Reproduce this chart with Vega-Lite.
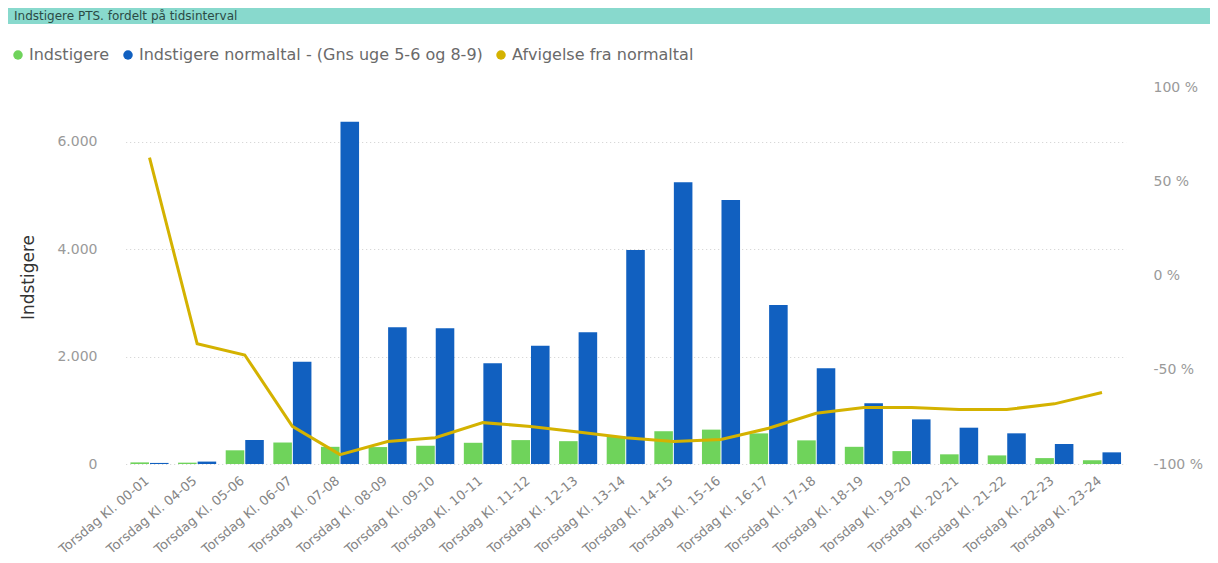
{
  "$schema": "https://vega.github.io/schema/vega-lite/v6.json",
  "width": 1202,
  "height": 456,
  "autosize": {"type": "none"},
  "padding": {"left": 8, "top": 8, "right": 8, "bottom": 99},
  "background": "white",
  "title": {"text": "Indstigere PTS. fordelt på tidsinterval", "anchor": "start", "frame": "group", "orient": "top", "offset": -15, "dx": 6, "fontSize": 12, "fontWeight": "normal", "color": "#2b4a45", "font": "DejaVu Sans"},
  "config": {
    "view": {"stroke": null},
    "font": "DejaVu Sans",
    "locale": {"number": {"decimal": ",", "thousands": ".", "grouping": [3], "currency": ["", " kr."]}}
  },
  "datasets": {
    "bars": [
      {"interval": "Torsdag Kl. 00-01", "serie": "Indstigere", "antal": 30},
      {"interval": "Torsdag Kl. 00-01", "serie": "Indstigere normaltal - (Gns uge 5-6 og 8-9)", "antal": 20},
      {"interval": "Torsdag Kl. 04-05", "serie": "Indstigere", "antal": 25},
      {"interval": "Torsdag Kl. 04-05", "serie": "Indstigere normaltal - (Gns uge 5-6 og 8-9)", "antal": 45},
      {"interval": "Torsdag Kl. 05-06", "serie": "Indstigere", "antal": 255},
      {"interval": "Torsdag Kl. 05-06", "serie": "Indstigere normaltal - (Gns uge 5-6 og 8-9)", "antal": 447},
      {"interval": "Torsdag Kl. 06-07", "serie": "Indstigere", "antal": 400},
      {"interval": "Torsdag Kl. 06-07", "serie": "Indstigere normaltal - (Gns uge 5-6 og 8-9)", "antal": 1905},
      {"interval": "Torsdag Kl. 07-08", "serie": "Indstigere", "antal": 320},
      {"interval": "Torsdag Kl. 07-08", "serie": "Indstigere normaltal - (Gns uge 5-6 og 8-9)", "antal": 6373},
      {"interval": "Torsdag Kl. 08-09", "serie": "Indstigere", "antal": 315},
      {"interval": "Torsdag Kl. 08-09", "serie": "Indstigere normaltal - (Gns uge 5-6 og 8-9)", "antal": 2545},
      {"interval": "Torsdag Kl. 09-10", "serie": "Indstigere", "antal": 340},
      {"interval": "Torsdag Kl. 09-10", "serie": "Indstigere normaltal - (Gns uge 5-6 og 8-9)", "antal": 2526},
      {"interval": "Torsdag Kl. 10-11", "serie": "Indstigere", "antal": 395},
      {"interval": "Torsdag Kl. 10-11", "serie": "Indstigere normaltal - (Gns uge 5-6 og 8-9)", "antal": 1875},
      {"interval": "Torsdag Kl. 11-12", "serie": "Indstigere", "antal": 445},
      {"interval": "Torsdag Kl. 11-12", "serie": "Indstigere normaltal - (Gns uge 5-6 og 8-9)", "antal": 2203},
      {"interval": "Torsdag Kl. 12-13", "serie": "Indstigere", "antal": 425},
      {"interval": "Torsdag Kl. 12-13", "serie": "Indstigere normaltal - (Gns uge 5-6 og 8-9)", "antal": 2452},
      {"interval": "Torsdag Kl. 13-14", "serie": "Indstigere", "antal": 520},
      {"interval": "Torsdag Kl. 13-14", "serie": "Indstigere normaltal - (Gns uge 5-6 og 8-9)", "antal": 3985},
      {"interval": "Torsdag Kl. 14-15", "serie": "Indstigere", "antal": 610},
      {"interval": "Torsdag Kl. 14-15", "serie": "Indstigere normaltal - (Gns uge 5-6 og 8-9)", "antal": 5245},
      {"interval": "Torsdag Kl. 15-16", "serie": "Indstigere", "antal": 640},
      {"interval": "Torsdag Kl. 15-16", "serie": "Indstigere normaltal - (Gns uge 5-6 og 8-9)", "antal": 4915},
      {"interval": "Torsdag Kl. 16-17", "serie": "Indstigere", "antal": 570},
      {"interval": "Torsdag Kl. 16-17", "serie": "Indstigere normaltal - (Gns uge 5-6 og 8-9)", "antal": 2960},
      {"interval": "Torsdag Kl. 17-18", "serie": "Indstigere", "antal": 440},
      {"interval": "Torsdag Kl. 17-18", "serie": "Indstigere normaltal - (Gns uge 5-6 og 8-9)", "antal": 1781},
      {"interval": "Torsdag Kl. 18-19", "serie": "Indstigere", "antal": 320},
      {"interval": "Torsdag Kl. 18-19", "serie": "Indstigere normaltal - (Gns uge 5-6 og 8-9)", "antal": 1129},
      {"interval": "Torsdag Kl. 19-20", "serie": "Indstigere", "antal": 240},
      {"interval": "Torsdag Kl. 19-20", "serie": "Indstigere normaltal - (Gns uge 5-6 og 8-9)", "antal": 831},
      {"interval": "Torsdag Kl. 20-21", "serie": "Indstigere", "antal": 180},
      {"interval": "Torsdag Kl. 20-21", "serie": "Indstigere normaltal - (Gns uge 5-6 og 8-9)", "antal": 676},
      {"interval": "Torsdag Kl. 21-22", "serie": "Indstigere", "antal": 160},
      {"interval": "Torsdag Kl. 21-22", "serie": "Indstigere normaltal - (Gns uge 5-6 og 8-9)", "antal": 571},
      {"interval": "Torsdag Kl. 22-23", "serie": "Indstigere", "antal": 110},
      {"interval": "Torsdag Kl. 22-23", "serie": "Indstigere normaltal - (Gns uge 5-6 og 8-9)", "antal": 372},
      {"interval": "Torsdag Kl. 23-24", "serie": "Indstigere", "antal": 70},
      {"interval": "Torsdag Kl. 23-24", "serie": "Indstigere normaltal - (Gns uge 5-6 og 8-9)", "antal": 217}
    ],
    "afv": [
      {"interval": "Torsdag Kl. 00-01", "afvigelse": 63},
      {"interval": "Torsdag Kl. 04-05", "afvigelse": -36},
      {"interval": "Torsdag Kl. 05-06", "afvigelse": -42},
      {"interval": "Torsdag Kl. 06-07", "afvigelse": -80},
      {"interval": "Torsdag Kl. 07-08", "afvigelse": -95},
      {"interval": "Torsdag Kl. 08-09", "afvigelse": -88},
      {"interval": "Torsdag Kl. 09-10", "afvigelse": -86},
      {"interval": "Torsdag Kl. 10-11", "afvigelse": -78},
      {"interval": "Torsdag Kl. 11-12", "afvigelse": -80},
      {"interval": "Torsdag Kl. 12-13", "afvigelse": -83},
      {"interval": "Torsdag Kl. 13-14", "afvigelse": -86},
      {"interval": "Torsdag Kl. 14-15", "afvigelse": -88},
      {"interval": "Torsdag Kl. 15-16", "afvigelse": -87},
      {"interval": "Torsdag Kl. 16-17", "afvigelse": -81},
      {"interval": "Torsdag Kl. 17-18", "afvigelse": -73},
      {"interval": "Torsdag Kl. 18-19", "afvigelse": -70},
      {"interval": "Torsdag Kl. 19-20", "afvigelse": -70},
      {"interval": "Torsdag Kl. 20-21", "afvigelse": -71},
      {"interval": "Torsdag Kl. 21-22", "afvigelse": -71},
      {"interval": "Torsdag Kl. 22-23", "afvigelse": -68},
      {"interval": "Torsdag Kl. 23-24", "afvigelse": -62}
    ]
  },
  "layer": [
    {
      "layer": [
        {
          "data": {"values": [{"bar": "titel"}]},
          "mark": {"type": "rect", "color": "#88d9cd"},
          "encoding": {
            "y": {"datum": 8489.4, "type": "quantitative"},
            "y2": {"datum": 8191.5}
          }
        },
        {
          "data": {"name": "bars"},
          "mark": {"type": "bar"},
          "encoding": {
            "x": {
              "field": "interval", "type": "nominal", "sort": null,
              "scale": {"range": [117.7, 1117.8], "paddingInner": 0.2, "paddingOuter": 0.1},
              "axis": {"title": null, "labelAngle": -40, "labelFontSize": 13, "labelColor": "#858585", "ticks": false, "domain": false, "labelPadding": 10, "labelOffset": -6, "grid": false, "labelLimit": 300}
            },
            "xOffset": {
              "field": "serie", "type": "nominal",
              "sort": ["Indstigere", "Indstigere normaltal - (Gns uge 5-6 og 8-9)"],
              "scale": {"paddingInner": 0.05, "paddingOuter": 0}
            },
            "y": {
              "field": "antal", "type": "quantitative",
              "scale": {"domain": [0, 8489.4], "nice": false, "zero": true},
              "axis": {"orient": "left", "offset": -102, "values": [0, 2000, 4000, 6000], "format": ",.0f", "title": "Indstigere", "titleX": -73, "titleY": 269, "titleFontSize": 17, "titleFontWeight": "normal", "titleColor": "#333333", "labelFontSize": 14, "labelColor": "#9a9a9a", "labelPadding": 13, "ticks": false, "domain": false, "grid": true, "gridColor": "#cfcfcf", "gridDash": [1, 3], "gridWidth": 1}
            },
            "color": {
              "field": "serie", "type": "nominal",
              "scale": {"domain": ["Indstigere", "Indstigere normaltal - (Gns uge 5-6 og 8-9)", "Afvigelse fra normaltal"], "range": ["#6fd35b", "#1160c0", "#d4b200"]},
              "legend": {"orient": "none", "legendX": 2, "legendY": 39, "direction": "horizontal", "title": null, "symbolType": "circle", "symbolSize": 90, "labelFontSize": 16, "labelColor": "#6a6a6a", "columnPadding": 10, "labelOffset": 3, "labelLimit": 600, "symbolStrokeWidth": 0,
                "encode": {"symbols": {"update": {"fill": {"scale": "color", "field": "value"}, "fillOpacity": {"value": 1}, "strokeWidth": {"value": 0}, "shape": {"value": "circle"}}}}}
            }
          }
        }
      ]
    },
    {
      "data": {"name": "afv"},
      "mark": {"type": "line", "strokeWidth": 3},
      "encoding": {
        "x": {"field": "interval", "type": "nominal", "sort": null},
        "y": {
          "field": "afvigelse", "type": "quantitative",
          "scale": {"domain": [-100, 142.55], "nice": false, "zero": false},
          "axis": {"orient": "right", "offset": -73, "values": [-100, -50, 0, 50, 100], "labelExpr": "datum.value + ' %'", "title": null, "grid": false, "ticks": false, "domain": false, "labelPadding": 16, "labelFontSize": 14, "labelColor": "#9a9a9a"}
        },
        "color": {"datum": "Afvigelse fra normaltal", "type": "nominal"}
      }
    }
  ],
  "resolve": {"scale": {"y": "independent"}}
}
